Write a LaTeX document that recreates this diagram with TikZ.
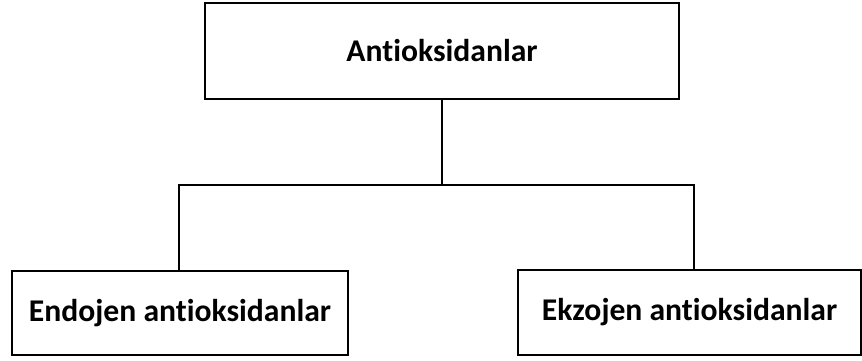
\documentclass[tikz,border=0pt]{standalone}
\usepackage{fontspec}
\setmainfont[Ligatures=NoCommon]{Carlito}
\tikzset{kutu/.style={draw,line width=1.7pt,inner sep=0pt,font=\fontsize{27}{32}\selectfont\bfseries}}
\begin{document}
\begin{tikzpicture}[x=0.03cm,y=-0.03cm]
\useasboundingbox (0,0) rectangle (862,360);
\node[kutu,minimum width=14.22cm,minimum height=2.88cm] (anti) at (442,51) {Antioksidanlar};
\node[kutu,minimum width=10.08cm,minimum height=2.52cm] (endo) at (180,313) {Endojen antioksidanlar};
\node[kutu,minimum width=10.29cm,minimum height=2.55cm] (ekzo) at (689.5,312.5) {Ekzojen antioksidanlar};
\coordinate (solu) at (179,185) ; \coordinate (sagu) at (694,185) ;
\draw[line width=1.7pt] (anti.south) -- (anti.south |- solu) ;
\draw[line width=1.7pt] (solu |- endo.north) -- (solu) -- (sagu) -- (sagu |- ekzo.north) ;
\end{tikzpicture}
\end{document}
